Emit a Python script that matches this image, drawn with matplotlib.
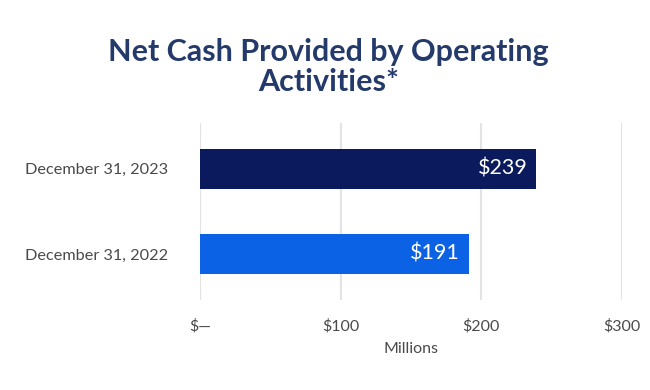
import matplotlib.pyplot as plt

# Data
categories = ["December 31, 2022", "December 31, 2023"]
values = [191, 239]
value_labels = ["$191", "$239"]
bar_colors = ["#0b62e4", "#0a1a5c"]
tick_values = [0, 100, 200, 300]
tick_labels = ["$\u2014", "$100", "$200", "$300"]

plt.rcParams['font.family'] = ['Lato', 'DejaVu Sans']

fig = plt.figure(figsize=(6.5, 3.9), dpi=100)
ax = fig.add_axes([0.3077, 0.231, 0.649, 0.454])

y = list(range(len(categories)))
bars = ax.barh(y, values, height=0.47, color=bar_colors, zorder=3)

# value labels inside bar ends
for bar, lab in zip(bars, value_labels):
    ax.text(bar.get_width() - 6, bar.get_y() + bar.get_height() / 2, lab,
            ha='right', va='center', color='white', fontsize=15.5, zorder=4)

ax.set_xlim(0, 300)
ax.set_ylim(-0.54, 1.54)
ax.set_xticks(tick_values)
ax.set_xticklabels(tick_labels, fontsize=11.5, color='#4a4a4a')
ax.set_yticks(y)
ax.set_yticklabels(categories, fontsize=11.7, color='#4a4a4a')
ax.tick_params(length=0)
ax.tick_params(axis='x', pad=14)
ax.tick_params(axis='y', pad=23)

ax.grid(axis='x', color='#e3e3e3', linewidth=1.5, zorder=0)
for s in ax.spines.values():
    s.set_visible(False)

ax.set_xlabel("Millions", fontsize=11.5, color='#4a4a4a', labelpad=6)

fig.text(0.505, 0.828, "Net Cash Provided by Operating\nActivities*", ha='center',
         va='center', fontsize=22, fontweight='bold', color='#233a6b',
         linespacing=1.12)

fig.savefig("out.png", dpi=100)
